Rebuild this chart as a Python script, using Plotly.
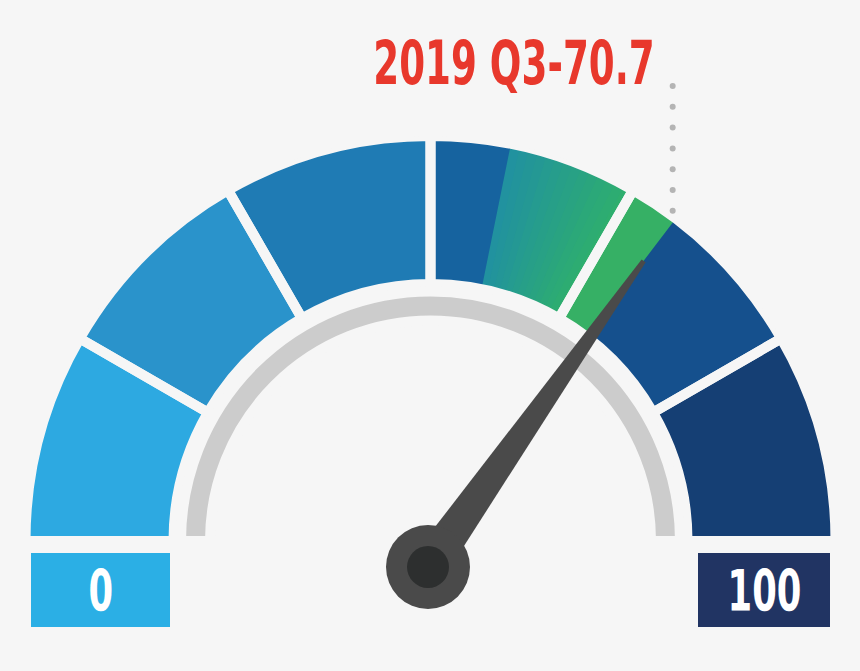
import numpy as np
import plotly.graph_objects as go

# ============================================================
# Gauge: 2019 Q3 value on a 0-100 scale
# ============================================================

period = "2019 Q3"
value = 70.7
prev_value = 56.4
scale_min, scale_max = 0, 100
band_edges = [0, 16.67, 33.33, 50, 66.67, 83.33, 100]
band_colors = ["#2da9e1", "#2a93cb", "#1f7bb4", "#16639f", "#15508d", "#153f74"]
end_labels = ["0", "100"]
end_colors = ["#2bafe5", "#213463"]

BG = "#f6f6f6"
W, H = 860, 671
CX, CY = 430.5, 541          # gauge centre in px
R_OUT, R_IN = 405, 257       # band radii (incl. half gap)
RING_IN, RING_OUT = 220.5, 249.5
GAP = 10
FONT = "DejaVu Sans Condensed, DejaVu Sans, sans-serif"


def to_theta(v):
    return (v - scale_min) / (scale_max - scale_min) * 180


def mix(c1, c2, t):
    a = np.array([int(c1[i:i + 2], 16) for i in (1, 3, 5)])
    b = np.array([int(c2[i:i + 2], 16) for i in (1, 3, 5)])
    c = (a + (b - a) * t).round().astype(int)
    return "#%02x%02x%02x" % tuple(c)


lo = [to_theta(v) for v in band_edges[:-1]]
hi = [to_theta(v) for v in band_edges[1:]]
mid = [(a + b) / 2 for a, b in zip(lo, hi)]
wid = [b - a for a, b in zip(lo, hi)]

# fills sit a little inside the gap mask so no edge pixels leak out
f_base, f_len = R_IN + 2, R_OUT - R_IN - 4

fig = go.Figure()

# coloured bands
fig.add_trace(go.Barpolar(
    theta=mid, width=wid, r=[f_len] * 6, base=[f_base] * 6,
    marker=dict(color=band_colors, line=dict(width=0)),
    hoverinfo="skip", showlegend=False,
))

# gradient from previous value up to band edge
g0, g1 = to_theta(prev_value), to_theta(band_edges[4])
n = 14
steps = np.linspace(g0, g1, n + 1)
fig.add_trace(go.Barpolar(
    theta=(steps[:-1] + steps[1:]) / 2, width=np.diff(steps) + 0.15,
    r=[f_len] * n, base=[f_base] * n,
    marker=dict(color=[mix("#21929f", "#2eae6e", i / (n - 1)) for i in range(n)],
                line=dict(width=0)),
    hoverinfo="skip", showlegend=False,
))

# current value highlight
v0, v1 = to_theta(band_edges[4]), to_theta(value)
fig.add_trace(go.Barpolar(
    theta=[(v0 + v1) / 2], width=[v1 - v0], r=[f_len], base=[f_base],
    marker=dict(color="#36b065", line=dict(width=0)),
    hoverinfo="skip", showlegend=False,
))

# gaps between bands
fig.add_trace(go.Barpolar(
    theta=mid, width=wid, r=[R_OUT - R_IN] * 6, base=[R_IN] * 6,
    marker=dict(color="rgba(0,0,0,0)", line=dict(color=BG, width=GAP)),
    hoverinfo="skip", showlegend=False,
))

# inner grey ring
fig.add_trace(go.Barpolar(
    theta=[90], width=[180], r=[RING_OUT - RING_IN], base=[RING_IN],
    marker=dict(color="#cccccc", line=dict(color=BG, width=GAP)),
    hoverinfo="skip", showlegend=False,
))

# needle geometry from value
ang = np.pi - np.radians(to_theta(value))
pivot = np.array([428.0, 567.0])
tip = np.array([CX + 352 * np.cos(ang), CY - 352 * np.sin(ang)])
u = (tip - pivot) / np.linalg.norm(tip - pivot)
nrm = np.array([-u[1], u[0]])
pts = [pivot + 19 * nrm, tip + 2.5 * nrm, tip - 2.5 * nrm, pivot - 19 * nrm]
needle_path = "M " + " L ".join(f"{p[0]:.1f},{p[1]:.1f}" for p in pts) + " Z"

# dotted leader line to the label
dot_x = CX + (R_OUT - GAP / 2) * np.cos(ang)
dot_end = CY - (R_OUT - GAP / 2) * np.sin(ang)
dot_y = np.arange(86, dot_end + 1, 20.8)
fig.add_trace(go.Scatter(
    x=[dot_x] * len(dot_y), y=dot_y, mode="markers",
    marker=dict(size=6, color="#b4b4b4"),
    hoverinfo="skip", showlegend=False,
))

shapes = [
    dict(type="path", path=needle_path, xref="x", yref="y",
         fillcolor="#4a4a4a", line=dict(width=0), layer="above"),
    dict(type="circle", xref="x", yref="y", x0=pivot[0] - 42, x1=pivot[0] + 42,
         y0=pivot[1] - 42, y1=pivot[1] + 42, fillcolor="#4a4a4a",
         line=dict(width=0), layer="above"),
    dict(type="circle", xref="x", yref="y", x0=pivot[0] - 21, x1=pivot[0] + 21,
         y0=pivot[1] - 21, y1=pivot[1] + 21, fillcolor="#2d2f2f",
         line=dict(width=0), layer="above"),
]

# end boxes 0 / 100
box_x = [(31, 170), (698, 830)]
annotations = []
for (x0, x1), txt, col in zip(box_x, end_labels, end_colors):
    shapes.append(dict(type="rect", xref="x", yref="y", x0=x0, x1=x1, y0=553, y1=627,
                       fillcolor=col, line=dict(width=0), layer="above"))
    annotations.append(dict(x=(x0 + x1) / 2, y=591, xref="x", yref="y", text=txt,
                            showarrow=False, font=dict(family=FONT, size=57, color="white",
                                                       weight="bold")))

annotations.append(dict(
    x=dot_x - 159, y=63, xref="x", yref="y", xanchor="center", yanchor="middle",
    text=f"{period}-{value}", showarrow=False,
    font=dict(family=FONT, size=60, color="#e8382c", weight="bold"),
))

fig.update_layout(
    width=W, height=H,
    margin=dict(l=0, r=0, t=0, b=0),
    paper_bgcolor=BG, plot_bgcolor=BG,
    polar=dict(
        domain=dict(x=[(CX - R_OUT) / W, (CX + R_OUT) / W],
                    y=[(H - CY) / H, (H - CY + R_OUT) / H]),
        sector=[0, 180], hole=0, bgcolor="rgba(0,0,0,0)",
        radialaxis=dict(visible=False, range=[0, R_OUT]),
        angularaxis=dict(visible=False, rotation=180, direction="clockwise"),
        bargap=0,
    ),
    xaxis=dict(range=[0, W], visible=False, domain=[0, 1], fixedrange=True),
    yaxis=dict(range=[H, 0], visible=False, domain=[0, 1], fixedrange=True),
    shapes=shapes,
    annotations=annotations,
)

# page without body margin; narrow the condensed labels like the original type
post = """
document.body.style.margin = '0';
document.body.style.background = '#f6f6f6';
document.querySelectorAll('.annotation-text').forEach(function (t) {
    t.style.transformBox = 'fill-box';
    t.style.transformOrigin = 'center';
    t.style.transform = 'scaleX(0.69)';
});
"""

fig.write_html("out.html", post_script=post, config={"displayModeBar": False})
